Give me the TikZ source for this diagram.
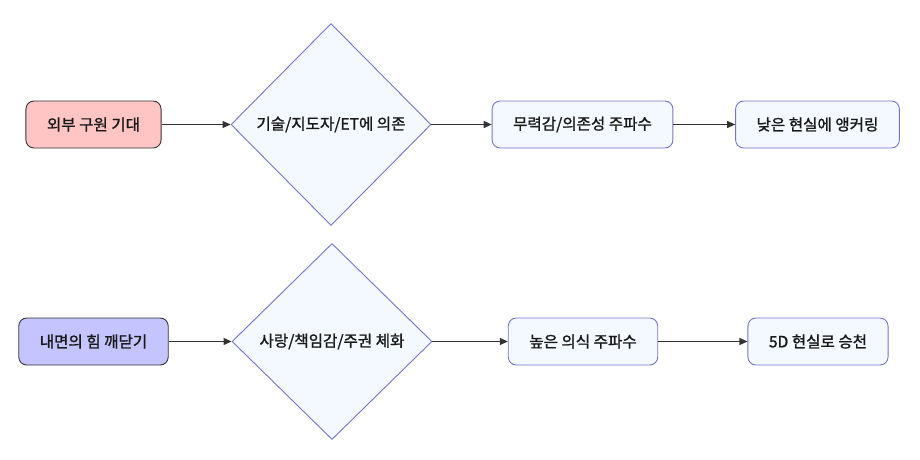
\documentclass[tikz,border=0pt]{standalone}
\usepackage{fontspec}
\setmainfont{Noto Sans CJK KR}[UprightFeatures={FakeBold=1.3}]
\usepackage{tikz}
\usetikzlibrary{arrows.meta,shapes.geometric,positioning}

\definecolor{pinkfill}{HTML}{FFC4C4}
\definecolor{lilacfill}{HTML}{C4C4FF}
\definecolor{palefill}{HTML}{F4F8FF}
\definecolor{bluestroke}{HTML}{7474CC}
\definecolor{darkstroke}{HTML}{333333}

\begin{document}
\begin{tikzpicture}[
  x=1pt, y=-1pt,
  box/.style={draw=bluestroke, fill=palefill, rounded corners=8pt, line width=0.9pt,
    align=center, inner xsep=21pt, minimum height=47pt, text=black!90},
  startbox/.style={box, draw=darkstroke},
  choice/.style={draw=bluestroke, fill=palefill, diamond, line width=0.9pt, inner sep=0pt,
    minimum width=200pt, minimum height=202pt, text=black!90},
  arrow/.style={-{Triangle[length=8pt,width=7pt]}, draw=darkstroke, line width=1.1pt},
  font=\fontsize{15.6}{18}\selectfont,
]
\useasboundingbox (0,0) rectangle (920,460);

% upper chain
\node[startbox, fill=pinkfill] (outside) at (93.5,124.5) {외부 구원 기대};
\node[choice] (depend) at (331,124.5) {기술/지도자/ET에 의존};
\node[box] (powerless) at (582.5,124.5) {무력감/의존성 주파수};
\node[box] (anchor) at (817.5,124.5) {낮은 현실에 앵커링};

% lower chain
\node[startbox, fill=lilacfill] (inner) at (93.5,341.5) {내면의 힘 깨닫기};
\node[choice, minimum height=196pt] (embody) at (332,341.5) {사랑/책임감/주권 체화};
\node[box] (highfreq) at (583,341.5) {높은 의식 주파수};
\node[box] (ascend) at (818,341.5) {5D 현실로 승천};

\draw[arrow] (outside) -- (depend);
\draw[arrow] (depend) -- (powerless);
\draw[arrow] (powerless) -- (anchor);

\draw[arrow] (inner) -- (embody);
\draw[arrow] (embody) -- (highfreq);
\draw[arrow] (highfreq) -- (ascend);
\end{tikzpicture}
\end{document}
